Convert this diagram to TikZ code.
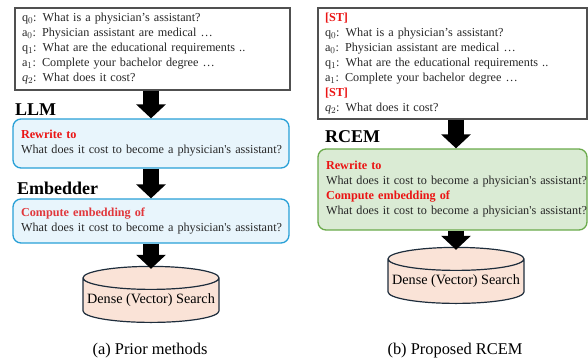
\documentclass[tikz,border=0pt]{standalone}
\usepackage{fontspec}
\setmainfont{Liberation Serif}
\usetikzlibrary{arrows.meta,shapes.geometric}

\definecolor{ctxgray}{RGB}{80,80,80}
\definecolor{txtgray}{RGB}{40,40,40}
\definecolor{hlred}{RGB}{235,20,20}
\definecolor{hlred2}{RGB}{225,55,60}
\definecolor{bluefill}{RGB}{232,245,252}
\definecolor{blueline}{RGB}{40,160,215}
\definecolor{greenfill}{RGB}{218,235,212}
\definecolor{greenline}{RGB}{106,170,75}
\definecolor{dbfill}{RGB}{250,227,215}
\definecolor{dbline}{RGB}{30,45,60}

\begin{document}
\begin{tikzpicture}[x=1pt,y=-1pt,
  ctxbox/.style={draw=ctxgray,line width=1.2pt,fill=white,align=left,
    inner xsep=7pt,text=txtgray,font=\fontsize{12.2}{15}\selectfont},
  bluebox/.style={draw=blueline,line width=1.3pt,fill=bluefill,rounded corners=8pt,
    align=left,inner xsep=8pt,text=txtgray,font=\fontsize{12.2}{15}\selectfont},
  greenbox/.style={bluebox,draw=greenline,fill=greenfill},
  steplabel/.style={inner sep=0pt,anchor=base west,font=\fontsize{18}{20}\selectfont\bfseries},
  dbase/.style={cylinder,shape border rotate=90,aspect=0.18,draw=dbline,line width=1.2pt,
    fill=dbfill,minimum width=136pt,minimum height=56pt,inner sep=0pt,anchor=south,
    font=\fontsize{14.2}{16}\selectfont},
  fatarrow/.style={line width=15.5pt,-{Triangle[width=29pt,length=14pt]}},
  caption/.style={anchor=base,font=\fontsize{16.4}{18}\selectfont}]

\useasboundingbox (0,0) rectangle (588,361);

\newcommand\Q{\mbox{What does it cost to become a physician\textquotesingle s assistant?}}

% (a) prior methods
\node[ctxbox,text width=261pt,minimum height=82pt] (ctxA) at (152.5,49)
  {q$_0$: What is a physician’s assistant?\\
   a$_0$: Physician assistant are medical \dots\\
   q$_1$: What are the educational requirements ..\\
   a$_1$: Complete your bachelor degree \dots\\
   \textit{q}$_2$: What does it cost?};
\node[steplabel] (llm) at (15,115) {LLM};
\node[bluebox,text width=260pt,minimum height=49pt] (rewriteA) at (151,143.5)
  {\textcolor{hlred}{\textbf{Rewrite to}}\\ \Q};
\node[steplabel] (embedder) at (17,194) {Embedder};
\node[bluebox,text width=260pt,minimum height=44pt] (embedA) at (151,221)
  {\textcolor{hlred2}{\textbf{Compute embedding of}}\\ \Q};
\node[dbase] (dbA) at (151,323) {Dense (Vector) Search};
\node[caption] (capA) at (150,354) {(a) Prior methods};

\draw[fatarrow] (ctxA.south -| dbA) -- (rewriteA.north -| dbA);
\draw[fatarrow] (rewriteA.south -| dbA) -- (embedA.north -| dbA);
\draw[fatarrow] (embedA.south -| dbA) -- ([yshift=-3pt]dbA.north);

% (b) proposed RCEM
\node[ctxbox,text width=255pt,minimum height=111pt] (ctxB) at (452.5,63.5)
  {\textcolor{hlred}{\textbf{[ST]}}\\
   q$_0$: What is a physician’s assistant?\\
   a$_0$: Physician assistant are medical \dots\\
   q$_1$: What are the educational requirements ..\\
   a$_1$: Complete your bachelor degree \dots\\
   \textcolor{hlred}{\textbf{[ST]}}\\
   \textit{q}$_2$: What does it cost?};
\node[steplabel] (rcem) at (325,142) {RCEM};
\node[greenbox,text width=253pt,minimum height=81pt] (rcemB) at (452.5,189.5)
  {\textcolor{hlred}{\textbf{Rewrite to}}\\ \Q\\
   \textcolor{hlred}{\textbf{Compute embedding of}}\\ \Q};
\node[dbase] (dbB) at (456,304) {Dense (Vector) Search};
\node[caption] (capB) at (455,354) {(b) Proposed RCEM};

\draw[fatarrow] (ctxB.south -| dbB) -- (rcemB.north -| dbB);
\draw[fatarrow] (rcemB.south -| dbB) -- ([yshift=-3pt]dbB.north);

\end{tikzpicture}
\end{document}
